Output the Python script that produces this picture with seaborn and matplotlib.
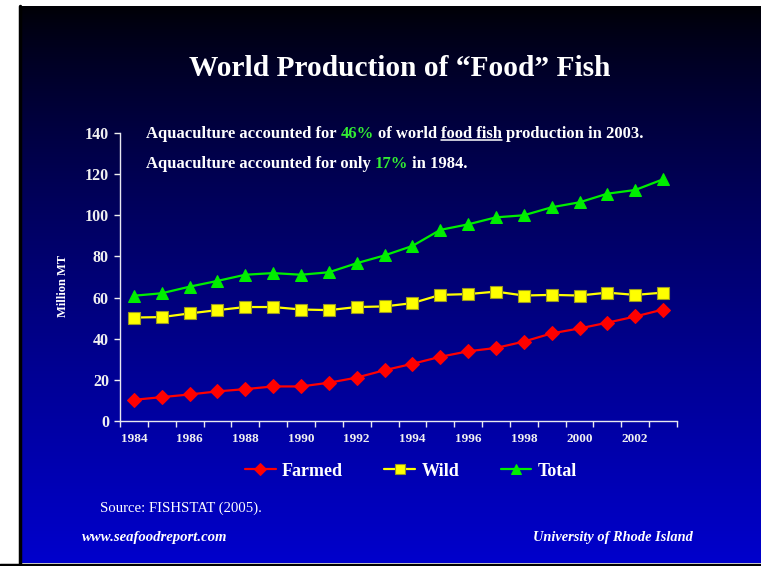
import numpy as np
import pandas as pd
import matplotlib
matplotlib.use("Agg")
import matplotlib.pyplot as plt
from matplotlib.lines import Line2D
import seaborn as sns

###############################################################################
# Data (million metric tonnes)
###############################################################################
years = list(range(1984, 2004))
farmed = [10.3, 11.6, 12.9, 14.4, 15.5, 16.8, 16.8, 18.6, 21.1, 24.7,
          27.8, 31.2, 33.9, 35.5, 38.6, 42.6, 45.0, 47.8, 50.8, 54.2]
wild = [50.3, 50.5, 52.3, 53.9, 55.4, 55.4, 54.2, 53.9, 55.4, 55.7,
        57.3, 61.3, 61.7, 62.9, 61.0, 61.3, 61.0, 62.4, 61.3, 62.4]
total = [60.9, 62.1, 65.3, 68.1, 71.1, 71.9, 71.1, 72.3, 76.7, 80.5,
         85.1, 92.9, 95.6, 99.0, 100.0, 103.9, 106.3, 110.5, 112.3, 117.5]
year_labels = [str(y) for y in years if y % 2 == 0]
y_ticks = [0, 20, 40, 60, 80, 100, 120, 140]

###############################################################################
# Style
###############################################################################
sns.set_style("ticks")
plt.rcParams["font.family"] = ["Liberation Serif", "DejaVu Serif"]
plt.rcParams["font.weight"] = "bold"

W, H = 761, 566
fig = plt.figure(figsize=(W / 100, H / 100), dpi=100, facecolor="white")

# slide background: vertical black -> blue gradient
bg = fig.add_axes([19 / W, 3 / H, (W - 19) / W, 557 / H])
bg.set_axis_off()
grad = np.linspace(0, 1, 256) ** 0.8
cols = np.zeros((256, 1, 3))
cols[:, 0, 2] = 0.02 + 0.78 * grad
bg.imshow(cols, aspect="auto", extent=[0, 1, 1, 0])
bg.set_xlim(0, 1)
bg.set_ylim(1, 0)
fig.add_artist(Line2D([20 / W, 20 / W], [0, 1 - 6 / H], color="black", lw=2.5))
fig.add_artist(Line2D([0, 1], [1.5 / H, 1.5 / H], color="black", lw=2.5))

###############################################################################
# Chart
###############################################################################
ax = fig.add_axes([120 / W, 145 / H, 557 / W, 288 / H])
ax.set_facecolor("none")

sns.lineplot(x=years, y=farmed, ax=ax, color="#ff0000", marker="D",
             markersize=7, markeredgecolor="#ff0000", linewidth=1.6, label="Farmed")
sns.lineplot(x=years, y=wild, ax=ax, color="#ffff00", marker="s",
             markersize=8, markeredgecolor="#9a9a20", markeredgewidth=0.8,
             linewidth=1.6, label="Wild")
sns.lineplot(x=years, y=total, ax=ax, color="#00ee00", marker="^",
             markersize=8.5, markeredgecolor="#00ee00", linewidth=1.6, label="Total")

ax.set_xlim(1983.5, 2003.5)
ax.set_ylim(0, 140)
ax.set_yticks(y_ticks)
ax.set_yticklabels([str(v) for v in y_ticks])
ax.set_xticks([int(s) for s in year_labels])
ax.set_xticklabels(year_labels)
ax.set_xticks(np.arange(1983.5, 2004, 1.0), minor=True)

for side in ["top", "right"]:
    ax.spines[side].set_visible(False)
for side in ["left", "bottom"]:
    ax.spines[side].set_color("#e8e8f0")
    ax.spines[side].set_linewidth(1.0)

ax.tick_params(axis="y", colors="#f0f0f0", direction="out", length=4, width=1,
               labelsize=11.5, pad=4)
ax.tick_params(axis="x", which="major", colors="#f0f0f0", length=0,
               labelsize=9.5, pad=9)
ax.tick_params(axis="x", which="minor", colors="#e8e8f0", direction="out",
               length=4, width=1)
for lab in ax.get_xticklabels() + ax.get_yticklabels():
    lab.set_fontweight("bold")
ax.set_xlabel("")
ax.set_ylabel("")

leg = ax.legend(loc="center", bbox_to_anchor=(411 / W, 1 - 471 / H),
                bbox_transform=fig.transFigure, ncol=3, frameon=False,
                prop={"size": 13, "weight": "bold"}, handlelength=1.7,
                handletextpad=0.35, columnspacing=2.3, markerscale=0.85)
for t in leg.get_texts():
    t.set_color("white")

###############################################################################
# Texts
###############################################################################
fig.text(400 / W, 1 - 68 / H, "World Production of \u201cFood\u201d Fish",
         color="white", fontsize=21.2, fontweight="bold", ha="center", va="center")
fig.text(63 / W, 1 - 286 / H, "Million MT", color="white", fontsize=9,
         fontweight="bold", rotation=90, ha="center", va="center")

renderer = fig.canvas.get_renderer()
green = "#33ee33"


def space_width(size):
    a = fig.text(0, 0, "n n", fontsize=size, fontweight="bold")
    b = fig.text(0, 0, "nn", fontsize=size, fontweight="bold")
    w = a.get_window_extent(renderer).width - b.get_window_extent(renderer).width
    a.remove()
    b.remove()
    return w


def rich_line(x, y, pieces, size):
    gap = space_width(size)
    cur = x
    for txt, color, ul in pieces:
        t = fig.text(cur / W, 1 - y / H, txt, color=color, fontsize=size,
                     fontweight="bold", ha="left", va="baseline")
        bb = t.get_window_extent(renderer)
        if ul:
            yy = 1 - (y + 2) / H
            fig.add_artist(Line2D([bb.x0 / W, bb.x1 / W], [yy, yy],
                                  color="white", lw=1.1))
        cur = bb.x1 + gap


rich_line(146, 138, [("Aquaculture accounted for", "white", False),
                     ("46%", green, False),
                     ("of world", "white", False),
                     ("food fish", "white", True),
                     ("production in 2003.", "white", False)], 12)
rich_line(146, 168, [("Aquaculture accounted for only", "white", False),
                     ("17%", green, False),
                     ("in 1984.", "white", False)], 12)

fig.text(100 / W, 1 - 508 / H, "Source: FISHSTAT (2005).", color="white",
         fontsize=10.6, fontweight="normal", ha="left", va="center")
fig.text(82 / W, 1 - 538 / H, "www.seafoodreport.com", color="white",
         fontsize=10.6, fontweight="bold", style="italic", ha="left", va="center")
fig.text(693 / W, 1 - 538 / H, "University of Rhode Island", color="white",
         fontsize=10.4, fontweight="bold", style="italic", ha="right", va="center")

fig.savefig("out.png", dpi=100, facecolor="white")
